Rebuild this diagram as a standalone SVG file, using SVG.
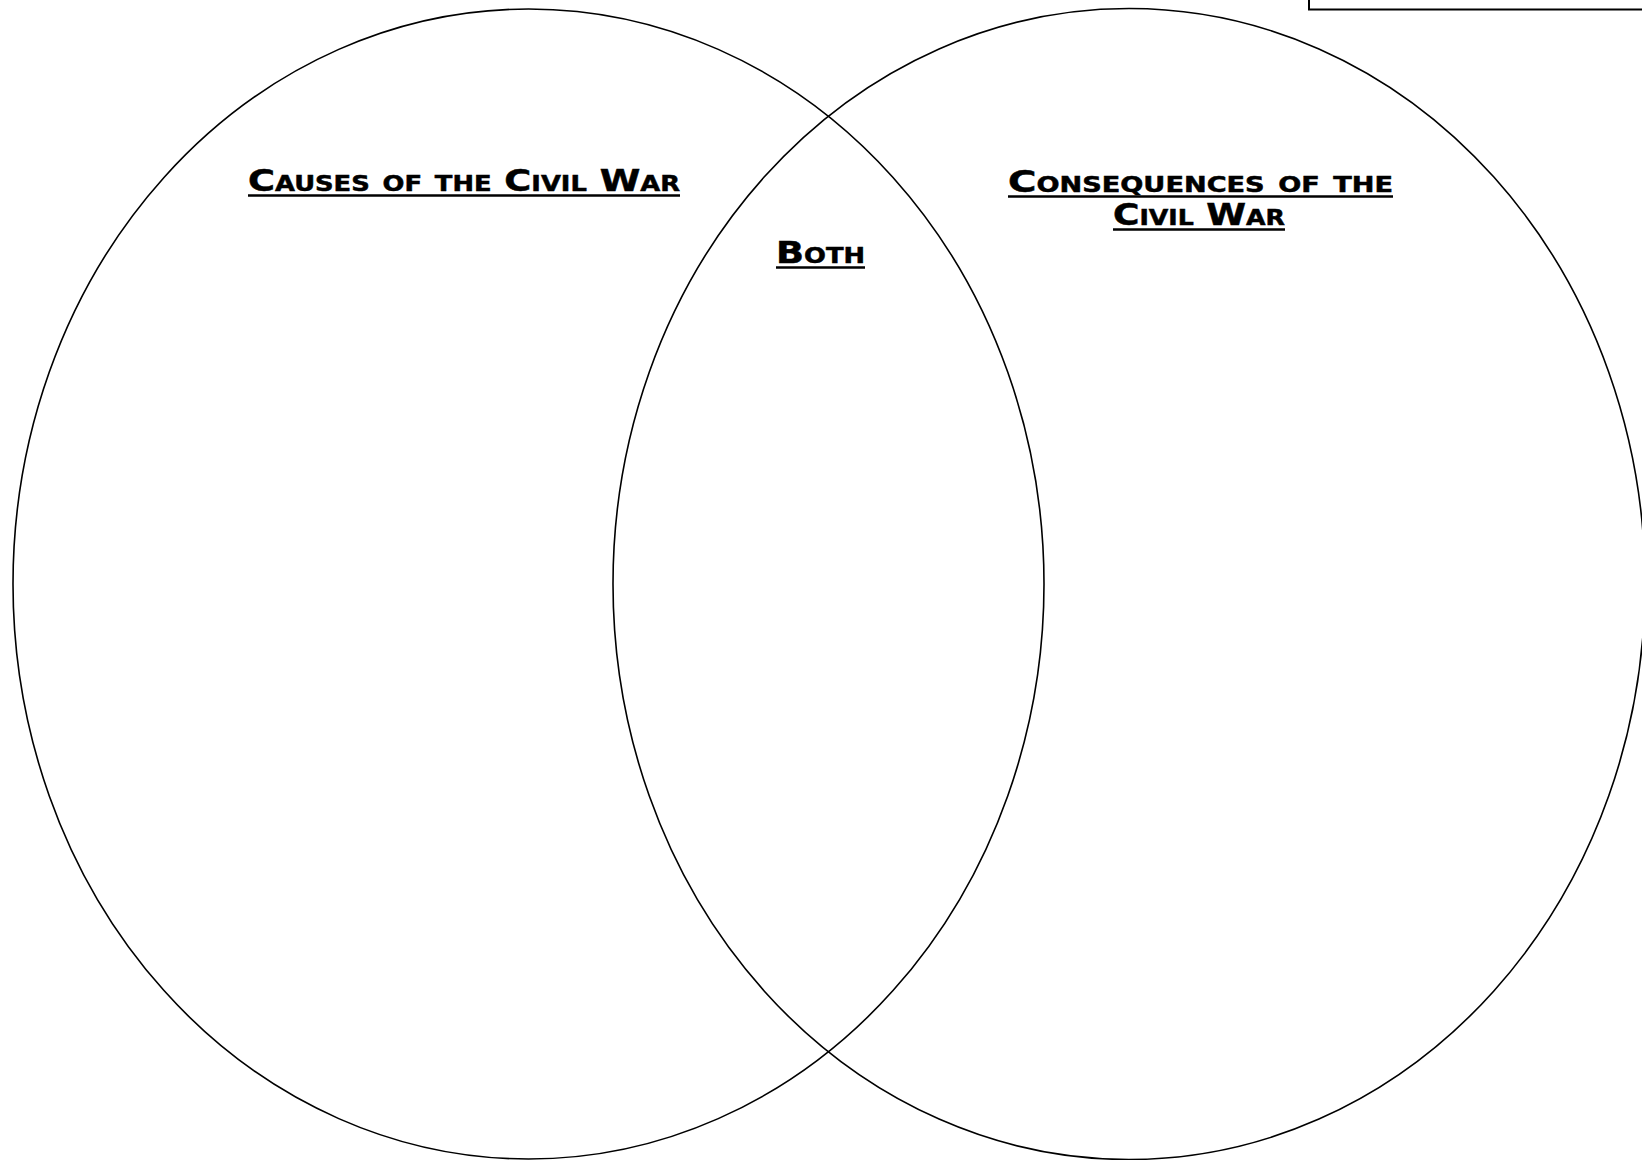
<svg xmlns="http://www.w3.org/2000/svg" width="1642" height="1160" viewBox="0 0 1642 1160">
<style>
.c{fill:none;stroke:#000;stroke-width:1.6}
.t{font-family:"DejaVu Sans",sans-serif;font-weight:bold;font-variant:small-caps;font-size:30px;fill:#000;stroke:#000;stroke-width:0.5;text-anchor:middle}
.u{stroke:#000;stroke-width:2.4}
</style>
<rect width="1642" height="1160" fill="#fff"/>
<g id="box"><rect x="1309" y="-10" width="345" height="19.5" fill="none" stroke="#000" stroke-width="2"/></g>
<g id="left-circle"><ellipse class="c" cx="528.5" cy="584" rx="515.5" ry="575"/></g>
<g id="right-circle"><ellipse class="c" cx="1129" cy="584" rx="516" ry="575.5"/></g>
<g id="causes-label">
<text class="t" x="464" y="191" textLength="432" lengthAdjust="spacingAndGlyphs">Causes of the Civil War</text>
<line class="u" x1="248" y1="195.5" x2="680" y2="195.5"/>
</g>
<g id="consequences-label">
<text class="t" x="1200.5" y="192" textLength="385" lengthAdjust="spacingAndGlyphs">Consequences of the</text>
<line class="u" x1="1008" y1="196.5" x2="1393" y2="196.5"/>
<text class="t" x="1199" y="225" textLength="172" lengthAdjust="spacingAndGlyphs">Civil War</text>
<line class="u" x1="1113" y1="229.5" x2="1285" y2="229.5"/>
</g>
<g id="both-label">
<text class="t" x="820.5" y="263" textLength="89" lengthAdjust="spacingAndGlyphs">Both</text>
<line class="u" x1="776" y1="267.5" x2="865" y2="267.5"/>
</g>
<g id="connectors"></g>
</svg>
